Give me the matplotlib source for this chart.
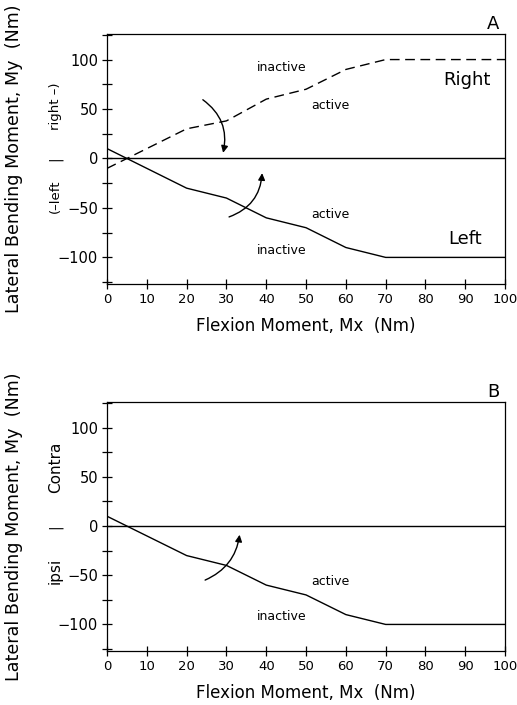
import matplotlib
matplotlib.use("Agg")
import matplotlib.pyplot as plt
from matplotlib.ticker import MultipleLocator

plt.rcParams['font.family'] = ['DejaVu Sans']

x_vals = [0, 5, 20, 30, 40, 50, 60, 70, 100]
right_vals = [-10, 0, 30, 38, 60, 70, 90, 100, 100]
left_vals = [10, 0, -30, -40, -60, -70, -90, -100, -100]
x_ticks = [0, 10, 20, 30, 40, 50, 60, 70, 80, 90, 100]
y_ticks = [-100, -50, 0, 50, 100]

fig = plt.figure(figsize=(5.17, 7.05), dpi=100)
axA = fig.add_axes([0.207, 0.597, 0.770, 0.355])
axB = fig.add_axes([0.207, 0.0766, 0.770, 0.353])

def style(ax):
    ax.set_xlim(0, 100)
    ax.set_ylim(-127, 126)
    ax.set_xticks(x_ticks)
    ax.set_yticks(y_ticks)
    ax.yaxis.set_minor_locator(MultipleLocator(25))
    ax.tick_params(which='both', direction='inout', length=7, width=0.9, pad=3)
    ax.tick_params(axis='y', labelsize=10.5)
    ax.tick_params(axis='x', labelsize=9.5)
    for s in ax.spines.values():
        s.set_linewidth(0.9)
    ax.axhline(0, color='black', lw=1.0)
    ax.set_xlabel('Flexion Moment, Mx  (Nm)', fontsize=12, labelpad=8)
    ax.set_ylabel('Lateral Bending Moment, My  (Nm)', fontsize=12.6, labelpad=25)

style(axA)
style(axB)

side_x = -0.13

# Panel A
axA.plot(x_vals, right_vals, color='black', lw=1.0, linestyle=(0, (7, 4)))
axA.plot(x_vals, left_vals, color='black', lw=1.0)
axA.annotate('', xy=(29, 3), xytext=(23.5, 61),
             arrowprops=dict(arrowstyle='-|>', color='black', lw=1.0,
                             connectionstyle='arc3,rad=-0.35', mutation_scale=10))
axA.annotate('', xy=(39, -12), xytext=(30, -60),
             arrowprops=dict(arrowstyle='-|>', color='black', lw=1.0,
                             connectionstyle='arc3,rad=0.35', mutation_scale=10))
axA.text(44, 92, 'inactive', fontsize=9, ha='center', va='center')
axA.text(56, 54, 'active', fontsize=9, ha='center', va='center')
axA.text(90.5, 79, 'Right', fontsize=13, ha='center', va='center')
axA.text(56, -57, 'active', fontsize=9, ha='center', va='center')
axA.text(90, -81, 'Left', fontsize=13, ha='center', va='center')
axA.text(44, -93, 'inactive', fontsize=9, ha='center', va='center')
axA.text(0.985, 1.005, 'A', transform=axA.transAxes, fontsize=13, ha='right', va='bottom')
axA.text(side_x, 0.71, 'right \u2013)', transform=axA.transAxes, rotation=90, fontsize=9.5, ha='center', va='center')
axA.text(side_x, 0.50, '|', transform=axA.transAxes, rotation=90, fontsize=10, ha='center', va='center')
axA.text(side_x, 0.35, '(\u2013left', transform=axA.transAxes, rotation=90, fontsize=9.5, ha='center', va='center')

# Panel B
axB.plot(x_vals, left_vals, color='black', lw=1.0)
axB.annotate('', xy=(33.4, -6), xytext=(24, -56),
             arrowprops=dict(arrowstyle='-|>', color='black', lw=1.0,
                             connectionstyle='arc3,rad=0.3', mutation_scale=10))
axB.text(56, -56, 'active', fontsize=9, ha='center', va='center')
axB.text(44, -92, 'inactive', fontsize=9, ha='center', va='center')
axB.text(0.985, 1.005, 'B', transform=axB.transAxes, fontsize=13, ha='right', va='bottom')
axB.text(side_x, 0.74, 'Contra', transform=axB.transAxes, rotation=90, fontsize=11, ha='center', va='center')
axB.text(side_x, 0.50, '|', transform=axB.transAxes, rotation=90, fontsize=10, ha='center', va='center')
axB.text(side_x, 0.32, 'ipsi', transform=axB.transAxes, rotation=90, fontsize=11, ha='center', va='center')

fig.savefig('out.png', dpi=100)
